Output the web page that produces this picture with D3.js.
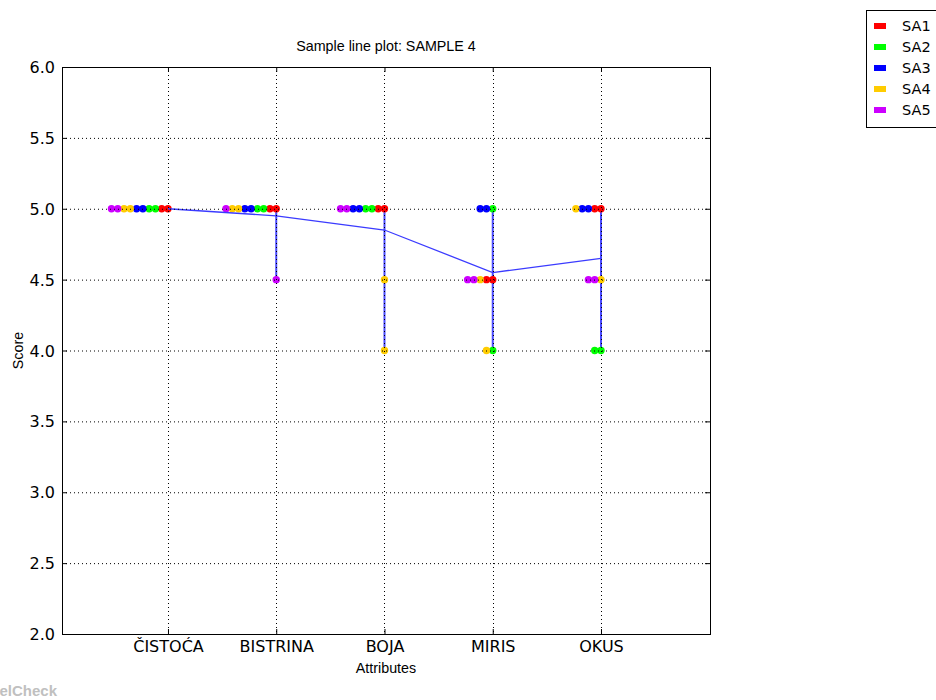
<!DOCTYPE html>
<html><head><meta charset="utf-8">
<script src="https://cdn.jsdelivr.net/npm/d3@7"></script>
<style>body{margin:0;background:#fff}svg{display:block}</style>
</head><body><svg id="c" width="936" height="700"></svg>
<script>
const attributes = ["ČISTOĆA","BISTRINA","BOJA","MIRIS","OKUS"];
const assessors = ["SA1","SA2","SA3","SA4","SA5"];
const colors = ["#ff0000","#00ff00","#0000ff","#ffcc00","#cc00ff"];
// scores[assessor][attribute] = [replicate1, replicate2]
const SA1 = [[5,5],[5,5],[5,5],[4.5,4.5],[5,5]];
const SA2 = [[5,5],[5,5],[5,5],[5,4],[4,4]];
const SA3 = [[5,5],[5,5],[5,5],[5,5],[5,5]];
const SA4 = [[5,5],[5,5],[4.5,4],[4.5,4],[5,4.5]];
const SA5 = [[5,5],[5,4.5],[5,5],[4.5,4.5],[4.5,4.5]];
const scores = [SA1,SA2,SA3,SA4,SA5];
const yTicks = [2.0,2.5,3.0,3.5,4.0,4.5,5.0,5.5,6.0];

const svg = d3.select("#c");
const L=62,R=710,T=67,B=634;
const x = d3.scaleLinear().domain([0.021,6.007]).range([L,R]);
const y = d3.scaleLinear().domain([2,6]).range([B,T]);
const off = 0.058;

// build points: stack leftwards at each (attribute, score)
const pts = [];
attributes.forEach((a,ai)=>{
  const counts = {};
  assessors.forEach((s,si)=>{
    scores[si][ai].forEach(v=>{
      const k = counts[v]||0; counts[v]=k+1;
      pts.push({ai, si, v, k});
    });
  });
});
const means = attributes.map((a,ai)=>d3.mean(scores.flatMap(s=>s[ai])));
const ranges = attributes.map((a,ai)=>d3.extent(scores.flatMap(s=>s[ai])));

// range lines
svg.append("g").selectAll("line").data(ranges).join("line")
  .attr("x1",(d,i)=>x(i+1)).attr("x2",(d,i)=>x(i+1))
  .attr("y1",d=>y(d[0])).attr("y2",d=>y(d[1]))
  .attr("stroke","#2a2aff").attr("stroke-width",2).attr("opacity",0.85);

// points
svg.append("g").selectAll("circle").data(pts).join("circle")
  .attr("cx",d=>x(d.ai+1-d.k*off)).attr("cy",d=>y(d.v)).attr("r",3.7)
  .attr("fill",d=>colors[d.si]);

// mean line
svg.append("path").datum(means)
  .attr("d",d3.line().x((d,i)=>x(i+1)).y(d=>y(d)))
  .attr("fill","none").attr("stroke","#3b3bff").attr("stroke-width",1.3);

// grid (on top, like old matplotlib)
const grid = svg.append("g").attr("stroke","#000").attr("stroke-width",1).attr("stroke-dasharray","1,3");
grid.selectAll(".gy").data(yTicks).join("line")
  .attr("x1",L).attr("x2",R).attr("y1",d=>y(d)+0.5).attr("y2",d=>y(d)+0.5);
grid.selectAll(".gx").data(attributes).join("line")
  .attr("y1",T).attr("y2",B).attr("x1",(d,i)=>Math.round(x(i+1))+0.5).attr("x2",(d,i)=>Math.round(x(i+1))+0.5);

// axes
const font = "DejaVu Sans, sans-serif";
const yAx = svg.append("g").attr("transform",`translate(${L},0)`)
  .call(d3.axisLeft(y).tickValues(yTicks).tickFormat(d3.format(".1f")).tickSizeInner(-5).tickSizeOuter(0).tickPadding(7));
const yAx2 = svg.append("g").attr("transform",`translate(${R},0)`)
  .call(d3.axisRight(y).tickValues(yTicks).tickFormat("").tickSizeInner(-5).tickSizeOuter(0));
const xAx = svg.append("g").attr("transform",`translate(0,${B})`)
  .call(d3.axisBottom(x).tickValues([1,2,3,4,5]).tickFormat((d)=>attributes[d-1]).tickSizeInner(-5).tickSizeOuter(0).tickPadding(7));
const xAx2 = svg.append("g").attr("transform",`translate(0,${T})`)
  .call(d3.axisTop(x).tickValues([1,2,3,4,5]).tickFormat("").tickSizeInner(-5).tickSizeOuter(0));
[yAx,yAx2,xAx,xAx2].forEach(g=>{g.select(".domain").remove();
  g.selectAll("text").attr("font-family",font).attr("font-size",16).attr("fill","#000");
  g.selectAll("line").attr("stroke","#000");});
yAx.selectAll("text").attr("dy","0.35em");

svg.append("rect").attr("x",L+0.5).attr("y",T+0.5).attr("width",R-L).attr("height",B-T)
  .attr("fill","none").attr("stroke","#000").attr("stroke-width",1);

// labels
const lf = "Liberation Sans, Arial, sans-serif";
svg.append("text").attr("x",(L+R)/2).attr("y",51).attr("text-anchor","middle")
  .attr("font-family",lf).attr("font-size",14.3).text("Sample line plot: SAMPLE 4");
svg.append("text").attr("x",(L+R)/2).attr("y",673).attr("text-anchor","middle")
  .attr("font-family",lf).attr("font-size",14.3).text("Attributes");
svg.append("text").attr("transform",`translate(23,${(T+B)/2}) rotate(-90)`).attr("text-anchor","middle")
  .attr("font-family",lf).attr("font-size",14.3).text("Score");

// legend
const lg = svg.append("g");
lg.append("rect").attr("x",866.5).attr("y",10.5).attr("width",80).attr("height",117)
  .attr("fill","#fff").attr("stroke","#000").attr("stroke-width",1);
assessors.forEach((s,i)=>{
  lg.append("rect").attr("x",874).attr("y",23+i*21).attr("width",12).attr("height",6).attr("fill",colors[i]);
  lg.append("text").attr("x",902).attr("y",31+i*21).attr("font-family",font).attr("font-size",14.5).text(s);
});

// watermark (cut off at the left edge, as in the reference)
svg.append("text").attr("x",57).attr("y",696).attr("text-anchor","end")
  .attr("font-family",lf).attr("font-weight","bold").attr("font-size",15).attr("fill","#c0c0c0").text("PanelCheck");
</script></body></html>
